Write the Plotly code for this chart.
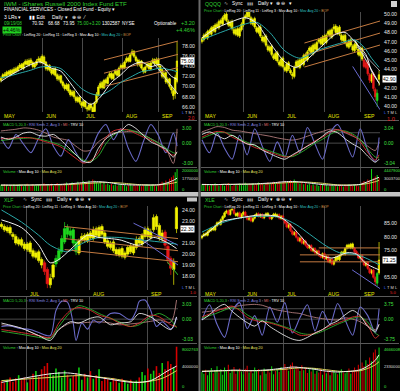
import plotly.graph_objects as go

# ---------------- data ----------------
MONTHS = ['MAY', 'JUN', 'JUL', 'AUG', 'SEP']
MONTH_POS = [0, 22, 43.3, 64.8, 84]
XLF_MONTHS = ['JUL', 'AUG', 'SEP']
XLF_MONTH_POS = [8.9, 30.8, 50.8]
IND_X = [0, 4, 8, 12, 16, 20, 24, 28, 32, 36, 40, 44, 48, 52, 56, 60, 64, 68, 72, 76, 80, 84, 88, 92, 94]

# IWM (top-left)
IWM_OPEN = [71.2,71.7,72.4,72.0,72.9,72.3,73.2,72.7,73.5,73.1,
            73.7,74.3,73.5,74.4,75.0,74.2,75.2,74.7,73.8,74.3,
            75.1,75.5,74.7,75.8,74.8,73.4,74.1,73.3,72.5,73.5,
            72.3,71.4,72.1,70.9,70.3,69.5,70.4,69.2,68.3,69.0,
            67.9,67.1,67.9,66.8,66.2,67.1,65.9,65.5,66.5,65.9,
            65.1,66.9,68.3,69.8,70.8,69.7,71.3,70.6,71.9,72.6,
            71.5,72.5,73.1,72.1,73.7,74.2,73.6,74.9,75.6,74.9,
            76.3,76.9,75.8,75.2,74.2,75.0,73.5,72.8,73.9,74.5,
            73.4,74.7,75.3,74.4,75.4,74.0,73.3,71.9,72.7,70.8,
            71.5,69.9,69.2,68.6,71.0]
IWM_HIGH = [72.0,72.6,72.8,73.1,73.2,73.4,73.5,73.8,73.9,74.1,
            74.6,74.6,74.8,75.3,75.4,75.5,75.6,75.0,74.8,75.4,
            75.9,75.9,76.3,76.1,75.0,74.4,74.4,73.6,73.7,73.8,
            72.6,72.4,72.3,71.2,70.6,70.7,70.6,69.5,69.3,69.3,
            68.2,68.2,68.1,67.1,67.4,67.3,66.2,66.8,66.8,66.1,
            67.1,68.9,70.3,71.0,71.1,71.5,71.6,72.2,72.9,72.8,
            72.7,73.4,73.3,73.9,74.5,74.6,75.1,75.9,75.9,76.5,
            77.3,77.1,76.1,75.5,75.3,75.2,73.8,74.1,74.8,74.7,
            74.9,75.6,75.5,75.7,75.6,74.3,73.5,72.9,72.9,71.8,
            71.7,70.3,69.5,72.3,78.8]
IWM_LOW = [70.8,71.4,71.7,71.8,72.1,72.0,72.3,72.5,72.7,72.9,
           73.4,73.3,73.2,74.1,74.0,73.9,74.3,73.5,73.5,74.0,
           74.8,74.5,74.4,74.3,73.1,73.0,72.9,72.2,72.2,71.9,
           71.1,71.0,70.5,69.8,69.2,69.2,68.7,68.0,68.0,67.6,
           66.8,66.8,66.5,65.8,65.9,65.6,65.1,65.2,65.3,64.4,
           64.9,66.6,68.0,69.5,69.4,69.5,70.3,70.4,71.6,71.3,
           71.2,72.2,71.9,71.9,73.4,73.3,73.4,74.6,74.7,74.7,
           76.0,75.6,74.8,73.9,73.9,73.3,72.5,72.6,73.6,73.2,
           73.2,74.4,74.1,74.2,73.8,72.8,71.6,71.5,70.5,70.4,
           69.6,68.6,67.4,67.6,70.6]
IWM_CLOSE = [71.6,72.3,72.0,72.8,72.4,73.1,72.6,73.4,73.0,73.8,
             74.2,73.6,74.5,74.9,74.3,75.1,74.6,73.9,74.4,75.0,
             75.4,74.8,75.9,74.7,73.5,74.0,73.2,72.6,73.4,72.2,
             71.5,72.0,70.8,70.2,69.6,70.3,69.1,68.4,68.9,68.0,
             67.2,67.8,66.9,66.3,67.0,66.0,65.6,66.4,65.8,65.0,
             66.8,68.5,69.9,70.6,69.8,71.2,70.7,71.8,72.5,71.6,
             72.4,73.0,72.2,73.6,74.1,73.7,74.8,75.5,75.0,76.2,
             76.8,75.9,75.1,74.3,74.9,73.6,72.9,73.8,74.4,73.5,
             74.6,75.2,74.5,75.3,74.1,73.2,72.0,72.6,70.9,71.4,
             70.0,69.3,68.2,71.8,75.0]
IWM_VOL = [28,22,30,25,20,27,24,31,22,26,
           30,24,21,28,33,25,22,29,26,24,
           31,27,23,35,30,26,28,33,24,29,
           36,27,31,25,34,38,29,33,40,31,
           36,42,33,38,45,36,41,48,39,52,
           46,40,35,44,31,37,29,34,27,32,
           26,30,24,28,33,25,29,22,27,31,
           24,28,23,30,26,21,29,25,32,27,
           24,30,26,22,28,35,42,38,48,40,
           55,62,70,85,100]
IWM_MA_X = [0, 5, 10, 16, 21, 27, 32, 37, 43, 48, 53, 59, 64, 69, 75, 80, 85, 91, 94]
IWM_MA10 = [71.0,72.2,73.2,74.3,74.8,73.6,73.0,70.7,67.8,66.5,67.9,70.8,72.3,74.0,74.8,73.9,74.3,72.0,71.4]
IWM_MA20 = [71.7,72.1,72.6,73.2,73.8,73.9,73.5,71.8,69.6,68.6,68.3,69.4,70.8,71.8,72.9,73.2,73.6,73.2,72.9]
IWM_LR_X = [55, 94.5]
IWM_LR_UP = [75.2, 78.9]
IWM_LR_MID = [72.6, 76.3]
IWM_LR_LO = [70.0, 73.7]
IWM_LR11_X = [81, 94.5]
IWM_LR11 = [74.8, 68.5]
IWM_MACD = [62,63,64,65,64,60,55,50,43,30,17,6,12,30,65,80,84,82,74,66,59,47,34,24,30]
IWM_SIG = [58,60,62,63,64,62,58,53,47,37,25,13,10,22,50,70,80,83,78,70,62,52,40,30,27]
IWM_TRV = [66,61,66,75,77,70,68,72,59,42,25,10,8,40,62,73,80,95,86,70,55,47,38,20,32]
IWM_MFI = [80,82,84,87,86,82,75,66,62,58,45,34,36,55,66,75,77,79,79,72,62,53,40,5,85]
IWM_RSI = [65,40,72,50,30,62,85,45,22,60,30,8,35,75,95,60,85,40,10,55,95,70,30,75,45]
IWM_VMA10 = [27,27,26,27,27,28,28,29,30,32,35,38,41,42,40,35,30,28,27,27,27,28,35,48,58]
IWM_VMA20 = [26,26,27,27,27,27,28,28,28,29,31,33,35,37,38,38,36,33,30,28,27,28,31,36,40]

# QQQQ (top-right)
QQQ_OPEN = [47.0,47.2,47.8,47.4,48.2,47.8,48.6,48.1,48.9,48.5,
            49.3,48.9,49.5,50.0,49.2,48.7,49.2,48.3,47.8,48.4,
            47.6,48.3,48.8,49.6,49.7,50.3,49.6,48.9,49.5,48.5,
            48.0,48.6,47.5,47.0,47.6,46.5,46.0,46.5,45.5,45.1,
            45.8,44.8,44.4,45.2,44.2,43.8,44.7,43.9,43.5,43.2,
            44.3,44.9,44.2,45.1,44.5,45.6,45.0,46.0,46.4,45.7,
            46.7,46.1,47.0,47.3,46.7,47.6,46.9,47.8,48.2,47.5,
            48.4,48.7,47.9,48.6,47.7,47.1,47.7,46.8,46.4,47.2,
            46.5,46.0,46.8,46.2,45.5,46.3,45.0,44.2,44.8,43.4,
            42.7,43.5,41.8,40.6,43.4]
QQQ_HIGH = [47.5,47.9,48.0,48.3,48.4,48.7,48.8,49.0,49.1,49.4,
            49.5,49.8,50.1,50.2,49.4,49.3,49.4,48.5,48.5,48.6,
            48.6,49.1,49.7,50.0,50.4,50.5,49.8,49.6,49.7,48.7,
            48.7,48.8,47.7,47.7,47.8,46.7,46.6,46.7,45.7,45.9,
            46.0,45.0,45.3,45.4,44.4,44.8,44.9,44.1,43.7,44.4,
            45.0,45.1,45.2,45.3,45.7,45.8,46.1,46.5,46.6,46.8,
            46.9,47.1,47.4,47.5,47.7,47.8,47.9,48.3,48.4,48.5,
            48.9,48.9,48.7,48.8,47.9,47.8,47.9,47.0,47.3,47.4,
            46.7,46.9,47.0,46.4,46.4,46.5,45.2,44.9,45.0,43.6,
            43.6,43.7,42.0,41.8,43.9]
QQQ_LOW = [46.8,47.0,47.3,47.2,47.7,47.6,48.0,47.9,48.4,48.3,
           48.8,48.7,49.3,49.1,48.6,48.5,48.2,47.7,47.6,47.5,
           47.4,48.1,48.6,49.4,49.5,49.5,48.8,48.7,48.4,47.9,
           47.8,47.4,46.9,46.8,46.4,45.9,45.8,45.4,45.0,44.9,
           44.7,44.3,44.2,44.1,43.7,43.6,43.8,43.4,42.9,43.0,
           44.1,44.1,44.0,44.4,44.3,44.9,44.8,45.8,45.6,45.5,
           46.0,45.9,46.8,46.6,46.5,46.8,46.7,47.6,47.4,47.3,
           48.2,47.8,47.7,47.6,47.0,46.9,46.7,46.3,46.2,46.4,
           45.9,45.8,46.1,45.4,45.3,44.9,44.1,44.0,43.3,42.5,
           42.5,41.6,40.6,39.9,42.2]
QQQ_CLOSE = [47.3,47.7,47.5,48.1,47.9,48.5,48.2,48.8,48.6,49.2,
             49.0,49.6,49.9,49.3,48.8,49.1,48.4,47.9,48.3,47.7,
             48.4,48.9,49.5,49.8,50.2,49.7,49.0,49.4,48.6,48.1,
             48.5,47.6,47.1,47.5,46.6,46.1,46.4,45.6,45.2,45.7,
             44.9,44.5,45.1,44.3,43.9,44.6,44.0,43.6,43.3,44.2,
             44.8,44.3,45.0,44.6,45.5,45.1,45.9,46.3,45.8,46.6,
             46.2,46.9,47.2,46.8,47.5,47.0,47.7,48.1,47.6,48.3,
             48.6,48.0,48.5,47.8,47.2,47.6,46.9,46.5,47.1,46.6,
             46.1,46.7,46.3,45.6,46.2,45.1,44.3,44.7,43.5,42.8,
             43.4,41.9,41.0,41.4,42.9]
QQQ_VOL = [30,26,33,28,24,31,27,35,29,25,
           32,28,24,30,36,27,23,31,28,26,
           34,29,25,37,31,27,30,35,26,32,
           38,29,33,27,36,40,31,35,42,33,
           37,44,35,39,46,37,42,49,40,52,
           45,39,34,43,30,36,28,33,26,31,
           25,29,23,27,32,24,28,21,26,30,
           23,27,22,29,25,20,28,24,31,26,
           23,29,25,21,30,38,45,40,52,46,
           100,58,66,72,60]
QQQ_MA20_X = [0, 10, 21, 29, 36, 44, 52, 62, 73, 81, 86, 90, 94]
QQQ_MA20 = [47.2,48.0,48.8,49.1,48.0,46.0,45.2,46.1,46.8,47.2,46.4,45.2,44.2]
QQQ_MA10_X = [0, 7, 15, 23, 29, 36, 44, 50, 55, 63, 71, 76, 81, 87, 90, 94]
QQQ_MA10 = [47.4,48.4,49.1,49.6,49.0,46.9,44.8,44.2,44.9,46.4,47.8,48.0,47.0,45.6,43.8,42.5]
QQQ_LR_X = [54.4, 94.5]
QQQ_LR_UP = [46.85, 49.24]
QQQ_LR_MID = [45.54, 47.93]
QQQ_LR_LO = [44.24, 46.63]
QQQ_LR11_X = [81, 94.5]
QQQ_LR11 = [47.2, 42.3]
QQQ_LR11B_X = [82, 94.5]
QQQ_LR11B = [46.5, 43.8]
QQQ_LR3_X = [80, 94.5]
QQQ_LR3 = [44.3, 39.6]
QQQ_MACD = [66,74,79,77,66,58,51,42,37,31,25,20,23,34,46,57,66,77,83,78,70,55,30,13,25]
QQQ_SIG = [63,70,76,77,70,61,54,46,40,34,28,22,21,29,40,52,61,72,80,80,73,60,38,20,18]
QQQ_TRV = [72,78,70,62,70,60,50,48,36,28,20,15,25,35,45,55,68,80,76,62,50,40,22,8,15]
QQQ_MFI = [78,84,90,88,82,80,77,74,71,68,64,61,59,62,68,74,79,84,83,76,68,60,45,35,55]
QQQ_RSI = [60,30,75,40,15,70,25,85,45,10,55,20,70,30,88,50,15,75,95,60,20,85,35,10,65]
QQQ_VMA10 = [30,29,29,30,30,31,31,32,34,36,39,42,43,41,37,33,29,27,26,26,27,30,42,55,62]
QQQ_VMA20 = [29,29,29,30,30,30,31,31,32,33,35,37,39,40,40,38,35,31,28,27,27,29,34,42,48]

# XLF (bottom-left)
XLF_OPEN = [22.7,22.5,22.1,22.4,21.8,21.6,20.9,21.3,20.9,20.4,
            21.0,20.3,19.7,20.2,19.5,19.2,18.6,17.2,17.9,19.1,
            19.5,20.2,21.1,22.4,21.7,22.2,21.1,20.1,21.3,21.7,
            21.2,21.9,21.4,22.3,21.6,22.5,21.9,21.2,20.6,21.1,
            20.4,19.9,20.5,19.7,20.0,20.7,20.1,20.6,21.4,20.9,
            21.6,22.3,21.5,22.2,23.4,22.6,21.4,22.0,20.7,19.6,
            18.6,24.2]
XLF_HIGH = [22.9,22.7,22.6,22.6,22.0,21.8,21.5,21.5,21.1,21.1,
            21.2,20.5,20.3,20.4,19.7,19.4,18.8,18.2,19.3,19.9,
            20.6,21.7,22.9,22.7,22.4,22.4,21.3,21.4,21.9,21.9,
            22.0,22.1,22.5,22.5,22.6,22.7,22.1,21.4,21.2,21.3,
            20.6,20.6,20.7,20.3,20.8,20.9,20.9,21.6,21.6,21.9,
            22.5,22.5,22.3,23.6,23.6,22.8,22.2,22.2,20.9,19.8,
            19.6,24.5]
XLF_LOW = [22.3,22.0,21.9,21.7,21.3,20.8,20.7,20.6,20.3,20.2,
           20.0,19.6,19.5,19.2,18.7,18.1,16.9,16.9,17.7,18.8,
           19.3,20.0,20.9,21.5,21.4,20.7,19.9,19.9,21.0,21.0,
           21.0,21.3,21.2,21.5,21.4,21.6,20.9,20.5,20.4,20.1,
           19.8,19.7,19.6,19.5,19.8,20.0,19.9,20.4,20.8,20.7,
           21.4,21.4,21.3,22.0,22.2,21.2,21.1,20.4,19.1,18.1,
           17.2,21.9]
XLF_CLOSE = [22.5,22.2,22.4,21.9,21.6,21.0,21.3,20.8,20.5,20.9,
             20.2,19.8,20.1,19.4,19.0,18.4,17.3,17.8,19.0,19.6,
             20.3,21.4,22.3,21.8,22.1,21.0,20.2,21.2,21.6,21.3,
             21.8,21.5,22.2,21.7,22.4,21.8,21.1,20.7,21.0,20.3,
             20.0,20.4,19.8,20.1,20.6,20.2,20.7,21.3,21.0,21.7,
             22.2,21.6,22.0,23.3,22.5,21.5,21.9,20.8,19.5,18.7,
             19.3,22.3]
XLF_VOL = [22,18,25,30,20,28,35,24,30,19,
           26,38,44,32,48,55,62,40,35,50,
           42,30,45,36,28,33,40,52,25,38,
           30,44,27,35,48,22,31,26,20,29,
           24,18,27,21,16,25,19,23,30,42,
           35,50,38,45,55,40,62,48,66,60,
           52,98]
XLF_MA20_X = [0, 7, 13, 17, 23, 27, 31, 34, 41, 48, 55, 61]
XLF_MA20 = [24.0,22.9,21.7,20.8,20.2,20.8,21.3,21.5,21.5,21.3,21.1,20.9]
XLF_MA10_X = [0, 7, 13, 17, 20, 24, 30, 34, 41, 48, 53, 58, 61]
XLF_MA10 = [23.1,22.4,20.8,19.2,19.5,20.4,21.7,21.5,21.3,20.8,21.5,21.0,20.5]
XLF_LR_X = [22, 61.5]
XLF_LR_UP = [22.5, 21.4]
XLF_LR_MID = [21.4, 20.3]
XLF_LR_LO = [20.4, 19.3]
XLF_LR11_X = [46, 61.5]
XLF_LR11 = [22.8, 20.8]
XLF_LR11B_X = [48, 61.5]
XLF_LR11B = [21.45, 19.0]
XLF_LR3_X = [57.7, 61.5]
XLF_LR3 = [19.3, 18.1]
XLF_IND_X = [0, 7, 13, 17, 20, 24, 27, 31, 34, 38, 41, 45, 48, 52, 55, 59, 61]
XLF_MACD = [28,21,14,10,43,72,79,72,61,54,43,35,43,61,57,39,35]
XLF_SIG = [24,17,10,7,35,68,83,75,65,54,46,35,39,57,65,50,32]
XLF_TRV = [43,31,14,3,28,46,43,54,57,39,43,46,65,57,43,28,57]
XLF_MFI = [39,31,14,8,28,43,43,45,46,43,39,41,43,47,50,45,96]
XLF_RSI_X = [0, 3, 6, 10, 13, 17, 19, 21, 23, 25, 26, 28, 30, 32, 34, 38, 41, 45, 47, 48, 50, 52, 54, 56, 59, 60, 61]
XLF_RSI = [35,37,31,28,21,14,72,93,91,43,3,43,29,50,43,65,65,50,72,93,96,72,35,46,29,35,57]
XLF_VMA10_X = [0, 17, 23, 34, 46, 52, 58, 61]
XLF_VMA10 = [19, 38, 40, 30, 19, 23, 45, 55]
XLF_VMA20_X = [0, 17, 27, 38, 48, 56, 61]
XLF_VMA20 = [23, 30, 34, 28, 19, 28, 45]

# XLE (bottom-right)
XLE_OPEN = [79.6,80.3,81.1,80.5,81.9,82.4,83.2,82.5,84.1,85.3,
            84.6,86.4,87.4,89.0,89.7,88.3,90.0,90.1,88.6,87.8,
            88.9,87.3,88.4,89.2,87.7,86.4,87.3,85.8,86.9,88.0,
            88.6,87.5,88.3,87.0,87.9,88.7,87.8,86.7,87.6,88.5,
            87.6,88.2,86.8,87.7,86.3,85.2,83.5,84.5,82.1,80.8,
            81.7,79.7,78.4,79.5,77.5,78.4,76.7,75.8,76.7,74.7,
            75.6,73.8,74.7,73.0,72.3,73.7,71.7,72.6,70.5,71.5,
            69.7,71.0,72.4,71.4,73.1,74.3,73.4,75.7,76.9,75.8,
            77.3,75.7,74.5,73.5,72.0,73.0,70.9,69.3,70.3,68.0,
            66.4,67.5,64.7,62.6,66.5]
XLE_HIGH = [80.7,81.5,81.6,82.3,83.0,83.6,83.7,84.5,85.7,85.8,
            86.8,88.0,89.4,90.1,90.2,90.4,90.6,90.5,89.1,89.3,
            89.4,88.8,89.6,89.7,88.2,87.7,87.8,87.3,88.4,89.0,
            89.1,88.7,88.8,88.3,89.1,89.2,88.3,88.0,88.9,89.0,
            88.6,88.7,88.1,88.2,86.8,85.7,84.9,85.0,82.6,82.1,
            82.2,80.2,79.9,80.0,78.8,78.9,77.2,77.1,77.2,76.0,
            76.1,75.1,75.2,73.5,74.1,74.2,73.0,73.1,71.9,72.0,
            71.4,72.8,72.9,73.5,74.7,74.8,76.1,77.3,77.4,77.7,
            77.8,76.2,75.0,74.0,73.4,73.5,71.4,70.7,70.8,68.5,
            67.9,68.0,65.2,66.8,78.0]
XLE_LOW = [79.0,79.9,80.1,80.1,81.4,81.9,82.1,82.0,83.6,84.2,
           84.1,85.9,86.9,88.5,87.9,87.8,89.5,88.2,87.4,87.3,
           86.9,86.8,87.9,87.3,86.0,85.9,85.4,85.3,86.4,87.5,
           87.1,87.0,86.6,86.5,87.4,87.4,86.3,86.2,87.1,87.2,
           87.1,86.4,86.3,85.9,84.6,83.1,83.0,81.7,80.4,80.3,
           79.3,78.0,77.9,77.1,77.0,76.3,75.4,75.3,74.3,74.2,
           73.4,73.3,72.6,71.9,71.8,71.3,71.2,70.1,70.0,69.3,
           69.2,70.5,71.0,70.9,72.6,73.0,72.9,75.2,75.4,75.3,
           75.3,73.9,73.1,71.6,71.5,70.5,68.9,68.8,67.6,66.0,
           65.9,64.3,61.8,61.5,65.8]
XLE_CLOSE = [80.2,81.0,80.6,81.8,82.5,83.1,82.6,84.0,85.2,84.7,
             86.3,87.5,88.9,89.6,88.4,89.9,90.2,88.7,87.9,88.8,
             87.4,88.3,89.1,87.8,86.5,87.2,85.9,86.8,87.9,88.5,
             87.6,88.2,87.1,87.8,88.6,87.9,86.8,87.5,88.4,87.7,
             88.1,86.9,87.6,86.4,85.1,83.6,84.4,82.2,80.9,81.6,
             79.8,78.5,79.4,77.6,78.3,76.8,75.9,76.6,74.8,75.5,
             73.9,74.6,73.1,72.4,73.6,71.8,72.5,70.6,71.4,69.8,
             70.9,72.3,71.5,73.0,74.2,73.5,75.6,76.8,75.9,77.2,
             75.8,74.4,73.6,72.1,72.9,71.0,69.4,70.2,68.1,66.5,
             67.4,64.8,63.1,66.2,71.25]
XLE_VOL = [42,38,47,35,44,51,39,46,55,41,
           48,36,52,44,58,40,47,53,38,45,
           50,43,37,49,56,41,46,39,52,44,
           48,35,43,50,38,46,41,55,37,44,
           49,42,53,47,60,52,45,58,63,48,
           55,50,44,57,46,52,40,48,43,51,
           38,45,41,49,36,44,39,47,35,42,
           46,40,37,43,48,41,39,45,50,38,
           44,52,47,58,50,63,55,68,60,74,
           66,85,92,78,96]
XLE_MA20_X = [0, 10, 20, 31, 41, 50, 57, 66, 73, 82, 87, 94]
XLE_MA20 = [81.7,85.0,87.0,87.6,87.3,84.5,81.0,76.5,74.0,73.3,72.0,69.5]
XLE_MA10_X = [0, 4, 10, 20, 31, 41, 46, 52, 57, 62, 69, 77, 82, 87, 94]
XLE_MA10 = [80.0,82.0,85.5,87.0,88.1,87.4,85.1,80.5,76.5,73.5,72.0,74.0,73.5,70.0,67.6]
XLE_LR_UP_X = [62, 94.5]
XLE_LR_UP = [75.8, 75.8]
XLE_LR_X = [52, 94.5]
XLE_LR_MID = [73.2, 73.2]
XLE_LR_LO = [70.6, 70.6]
XLE_LR3_X = [79.7, 94.5]
XLE_LR3 = [67.6, 60.6]
XLE_MACD = [57,64,71,78,82,72,56,49,46,43,38,32,24,15,15,20,28,37,43,50,57,58,38,8,15]
XLE_SIG = [55,60,66,73,78,75,62,53,48,45,40,34,28,20,17,18,24,32,40,47,54,57,45,20,14]
XLE_TRV = [50,62,78,86,70,56,44,36,48,35,24,14,6,3,10,20,28,40,48,62,72,60,35,24,40]
XLE_MFI = [68,70,73,76,80,83,85,86,84,78,73,70,67,65,60,56,53,51,50,55,52,46,36,28,40]
XLE_RSI = [50,85,40,10,70,90,30,60,15,80,45,90,20,55,85,25,70,40,88,50,15,80,60,20,75]
XLE_VMA10 = [43,44,45,45,46,46,45,45,46,47,49,51,53,52,50,48,45,43,42,43,44,47,55,68,80]
XLE_VMA20 = [44,44,44,45,45,45,45,45,45,46,47,48,50,51,51,50,48,46,44,43,44,45,50,58,65]

# candle colour codes (style): y = yellow, r = red, g = green
IWM_COLS = 'y' * 95
QQQ_COLS = 'y' * 86 + 'rrrryrr' + 'gy'
XLE_COLS = ('y' * 14 + 'r' + 'yy' + 'r' + 'yy' + 'r' + 'yy' + 'rr' + 'y' + 'r' + 'yyy' + 'r' + 'y' + 'r'
            + 'yyy' + 'r' + 'yyyy' + 'r' + 'y' + 'r' + 'rryrryrryryrryryryrr' + 'yryryr' + 'y' * 11
            + 'rrryrryrryrr' + 'gy')
XLF_COLS = 'y' * 15 + 'rr' + 'yy' + 'g' * 8 + 'y' * 30 + 'rrr' + 'yy'

# ---------------- styling ----------------
W, H = 400, 391
FONT = 'Liberation Sans'
YEL = '#f2f200'; RED = '#e81818'; GRN = '#1ed81e'
TEAL = '#2aa8a8'; WHITE = '#f0f0f0'; ORNG = '#c47a40'; GRID = '#4a4a4a'
MACD_C = '#d83030'; SIG_C = '#2eb02e'; RSI_C = '#6a6ac8'; MFI_C = '#b07a7a'; TRV_C = '#e8e8e8'
VRED = '#d80000'; VGRN = '#10d010'; VMA20 = '#d8d860'
LBL = '#e6e6e6'; LGRN = '#40e040'

fig = go.Figure()
layout = dict(width=W, height=H, margin=dict(l=0, r=0, t=0, b=0, pad=0),
              paper_bgcolor='black', plot_bgcolor='black', showlegend=False,
              hovermode=False, boxgap=0.15, boxgroupgap=0.0, bargap=0.3,
              font=dict(family=FONT, color='white', size=6))
ann = []
shapes = []
count = [0]


def pane(px, py, xr, yr, grid):
    count[0] += 1
    n = count[0]
    s = '' if n == 1 else str(n)
    layout['xaxis' + s] = dict(domain=[px[0] / W, px[1] / W], range=xr, anchor='y' + s,
                               showgrid=True, gridcolor=GRID, gridwidth=1, tickvals=grid,
                               showticklabels=False, ticks='', zeroline=False, showline=False,
                               fixedrange=True, rangeslider=dict(visible=False))
    layout['yaxis' + s] = dict(domain=[1 - py[1] / H, 1 - py[0] / H], range=yr, anchor='x' + s,
                               showgrid=False, zeroline=False, showline=False, ticks='',
                               showticklabels=False, fixedrange=True)
    return ('x' + s, 'y' + s)


def T(x, y, s, color='#ffffff', size=5.0, anchor='left', bg=None):
    d = dict(x=x / W, y=1 - y / H, xref='paper', yref='paper', text=s, showarrow=False,
             xanchor=anchor, yanchor='middle', font=dict(size=size, color=color, family=FONT))
    if bg:
        d.update(bgcolor=bg, borderpad=0)
    ann.append(d)


def R(x0, y0, x1, y1, fill):
    shapes.append(dict(type='rect', xref='paper', yref='paper', x0=x0 / W, x1=x1 / W,
                       y0=1 - y1 / H, y1=1 - y0 / H, fillcolor=fill, line=dict(width=0), layer='above'))


def HL(x0, x1, y, color='#5a5a5a'):
    shapes.append(dict(type='line', xref='paper', yref='paper', x0=x0 / W, x1=x1 / W,
                       y0=1 - y / H, y1=1 - y / H, line=dict(color=color, width=1), layer='above'))


def ylab(x1, py, rng, val, text, color, size):
    # axis label in the right-hand label column, placed through the pane's own value scale
    y = py[0] + (rng[1] - val) / (rng[1] - rng[0]) * (py[1] - py[0])
    T(x1 + 2, y, text, color, size)


def candles(ax, o, h, l, c, cols):
    n = min(len(o), len(h), len(l), len(c), len(cols))
    for code, col in (('y', YEL), ('r', RED), ('g', GRN)):
        ids = [i for i in range(n) if cols[i] == code]
        if not ids:
            continue
        fig.add_trace(go.Candlestick(
            x=ids, open=[o[i] for i in ids], high=[h[i] for i in ids],
            low=[l[i] for i in ids], close=[c[i] for i in ids],
            xaxis=ax[0], yaxis=ax[1], whiskerwidth=0,
            increasing=dict(line=dict(color=col, width=0.7), fillcolor=col),
            decreasing=dict(line=dict(color=col, width=0.7), fillcolor=col)))


def line(ax, x, y, color, width=1.0, shape='spline'):
    fig.add_trace(go.Scatter(x=x, y=y, mode='lines', xaxis=ax[0], yaxis=ax[1],
                             line=dict(color=color, width=width, shape=shape, smoothing=0.8)))


def volume(ax, vol, o, c):
    n = min(len(vol), len(o), len(c))
    cols = [VGRN if c[i] >= o[i] else VRED for i in range(n)]
    fig.add_trace(go.Bar(x=list(range(n)), y=vol[:n], width=0.55, xaxis=ax[0], yaxis=ax[1],
                         marker=dict(color=cols, line=dict(width=0))))


def grid_line(ax, x0, x1, y):
    shapes.append(dict(type='line', xref=ax[0], yref=ax[1], x0=x0, x1=x1, y0=y, y1=y,
                       line=dict(color=GRID, width=1), layer='below'))


PRICE_ROW = ("<span style='color:#30d030'>Price Chart</span> : LinReg 20 : LinReg 11 : LinReg 3 : "
             "Mov Avg 10 : <span style='color:#30c0c0'>Mov Avg 20</span> : <span style='color:#d09040'>BOP</span>")
IND_ROW = ("<span style='color:#30d030'>MACD 5,20,3</span> : <span style='color:#8888e0'>RSI Smth 2, Avg 3</span>"
           " : <span style='color:#e07070'>MI</span> : TRV 10")
VOL_ROW = ("<span style='color:#30d030'>Volume</span> : Mov Avg 10 : <span style='color:#e0e060'>Mov Avg 20</span>")

IND_RNG = [-3, 103]
VOL_RNG = [0, 104]


def month_labels(x0, w, n, pos, names, y):
    for p, nm in zip(pos, names):
        T(x0 + (p + 0.5) * w / n + 1.5, y, nm, '#e8e800', 5.2)


def panel(x0, x1, yp, yi, yv, n, mpos, mnames, prng, pticks, box, ilab, vlab, lt_y,
          o, h, l, c, cols, mas, lrs, ind, vol, vmas):
    xr = [-0.5, n - 0.5]
    pa = pane((x0, x1), yp, xr, prng, mpos)
    ia = pane((x0, x1), yi, xr, IND_RNG, mpos)
    va = pane((x0, x1), yv, xr, VOL_RNG, mpos)
    grid_line(ia, xr[0], xr[1], 52)
    grid_line(ia, xr[0], xr[1], 76)
    candles(pa, o, h, l, c, cols)
    for (x, y, col, wd, shp) in lrs:
        line(pa, x, y, col, wd, shp)
    for (x, y, col) in mas:
        line(pa, x, y, col, 1.0)
    for (x, y, col, wd) in ind:
        line(ia, x, y, col, wd)
    volume(va, vol, o, c)
    for (x, y, col) in vmas:
        line(va, x, y, col, 1.0)
    # axis labels (right column)
    for t in pticks:
        ylab(x1, yp, prng, t, '%.2f' % t, LBL, 5.2)
    for v, s in zip([86, 52, 6], ilab):
        ylab(x1, yi, IND_RNG, v, s, LGRN, 4.8)
    ylab(x1, yv, VOL_RNG, 92, vlab[0], LGRN, 4.1)
    ylab(x1, yv, VOL_RNG, 55, vlab[1], '#dddddd', 4.1)
    ylab(x1, yv, VOL_RNG, 9, '0', LGRN, 4.1)
    # texts
    month_labels(x0, x1 - x0, n, mpos, mnames, yp[1] + 4)
    T(x1 + 9.5, box[0], box[1], 'black', 5.0, 'center', 'white')
    T(x0 + 1, yi[0] + 3.5, IND_ROW, '#ffffff', 3.8)
    T(x0 + 1, yv[0] + 3.5, VOL_ROW, '#ffffff', 3.8)
    T(x1 + 2, lt_y, "<span style='color:#3060ff'>L</span> T M L", '#dddddd', 4.0)
    HL(x0, x1 + 19, yi[0] - 0.5)
    HL(x0, x1 + 19, yv[0] - 0.5)


# ---- IWM ----
panel(0, 178, (38, 112), (121, 167), (168, 191), 95, MONTH_POS, MONTHS, [65.0, 79.5],
      [66, 68, 70, 72, 74, 76, 78], (61.5, '75.00'), ['3.00', '0.00', '-3.00'], ('2000000', '1770000'), 113,
      IWM_OPEN, IWM_HIGH, IWM_LOW, IWM_CLOSE, IWM_COLS,
      [(IWM_MA_X, IWM_MA20, TEAL), (IWM_MA_X, IWM_MA10, WHITE)],
      [(IWM_LR_X, IWM_LR_UP, ORNG, 1.0, 'linear'), (IWM_LR_X, IWM_LR_MID, ORNG, 1.0, 'linear'),
       (IWM_LR_X, IWM_LR_LO, ORNG, 1.0, 'linear'), (IWM_LR11_X, IWM_LR11, '#d8d8d8', 1.0, 'linear')],
      [(IND_X, IWM_MFI, MFI_C, 0.9), (IND_X, IWM_RSI, RSI_C, 1.1), (IND_X, IWM_SIG, SIG_C, 0.9),
       (IND_X, IWM_MACD, MACD_C, 0.9), (IND_X, IWM_TRV, TRV_C, 0.9)],
      IWM_VOL, [(IND_X, IWM_VMA20, VMA20), (IND_X, IWM_VMA10, WHITE)])

# ---- QQQQ ----
panel(201, 380, (12, 112), (121, 167), (168, 191), 95, MONTH_POS, MONTHS, [39.35, 50.22],
      [40, 41, 42, 44, 45, 46, 47, 48, 49, 50], (79.3, '42.90'), ['3.04', '0.00', '-3.04'], ('4447900', '3003700'), 112.5,
      QQQ_OPEN, QQQ_HIGH, QQQ_LOW, QQQ_CLOSE, QQQ_COLS,
      [(QQQ_MA20_X, QQQ_MA20, TEAL), (QQQ_MA10_X, QQQ_MA10, WHITE)],
      [(QQQ_LR_X, QQQ_LR_UP, ORNG, 1.0, 'linear'), (QQQ_LR_X, QQQ_LR_MID, ORNG, 1.0, 'linear'),
       (QQQ_LR_X, QQQ_LR_LO, ORNG, 1.0, 'linear'), (QQQ_LR11_X, QQQ_LR11, '#e0e0e0', 1.0, 'linear'),
       (QQQ_LR11B_X, QQQ_LR11B, '#a0a0a0', 1.0, 'linear'), (QQQ_LR3_X, QQQ_LR3, '#6a6ad0', 1.0, 'linear')],
      [(IND_X, QQQ_MFI, MFI_C, 0.9), (IND_X, QQQ_RSI, RSI_C, 1.1), (IND_X, QQQ_SIG, SIG_C, 0.9),
       (IND_X, QQQ_MACD, MACD_C, 0.9), (IND_X, QQQ_TRV, TRV_C, 0.9)],
      QQQ_VOL, [(IND_X, QQQ_VMA20, VMA20), (IND_X, QQQ_VMA10, WHITE)])

# ---- XLF ----
panel(0, 178, (206, 290), (297, 343), (344, 391), 62, XLF_MONTH_POS, XLF_MONTHS, [16.73, 24.36],
      [18, 19, 20, 21, 23, 24], (228.7, '22.30'), ['3.03', '0.00', '-3.03'], ('8002763', '4000000'), 287,
      XLF_OPEN, XLF_HIGH, XLF_LOW, XLF_CLOSE, XLF_COLS,
      [(XLF_MA20_X, XLF_MA20, TEAL), (XLF_MA10_X, XLF_MA10, WHITE)],
      [(XLF_LR_X, XLF_LR_UP, ORNG, 1.0, 'linear'), (XLF_LR_X, XLF_LR_MID, ORNG, 1.0, 'linear'),
       (XLF_LR_X, XLF_LR_LO, ORNG, 1.0, 'linear'), (XLF_LR11_X, XLF_LR11, '#6a6ad0', 1.0, 'linear'),
       (XLF_LR11B_X, XLF_LR11B, '#6a6ad0', 1.0, 'linear'), (XLF_LR3_X, XLF_LR3, '#30c030', 1.0, 'linear')],
      [(XLF_IND_X, XLF_MFI, MFI_C, 0.9), (XLF_RSI_X, XLF_RSI, RSI_C, 1.1), (XLF_IND_X, XLF_SIG, SIG_C, 0.9),
       (XLF_IND_X, XLF_MACD, MACD_C, 0.9), (XLF_IND_X, XLF_TRV, TRV_C, 0.9)],
      XLF_VOL, [(XLF_VMA20_X, XLF_VMA20, VMA20), (XLF_VMA10_X, XLF_VMA10, WHITE)])

# ---- XLE ----
panel(201, 380, (206, 290), (297, 343), (344, 391), 95, MONTH_POS, MONTHS, [60.07, 91.46],
      [65, 75, 80, 85], (260.2, '71.25'), ['3.75', '0.00', '-3.75'], ('4666008', '2330000'), 287,
      XLE_OPEN, XLE_HIGH, XLE_LOW, XLE_CLOSE, XLE_COLS,
      [(XLE_MA20_X, XLE_MA20, TEAL), (XLE_MA10_X, XLE_MA10, WHITE)],
      [(XLE_LR_UP_X, XLE_LR_UP, ORNG, 1.0, 'linear'), (XLE_LR_X, XLE_LR_MID, ORNG, 1.0, 'linear'),
       (XLE_LR_X, XLE_LR_LO, ORNG, 1.0, 'linear'), (XLE_LR3_X, XLE_LR3, '#6a6ad0', 1.0, 'linear')],
      [(IND_X, XLE_MFI, MFI_C, 0.9), (IND_X, XLE_RSI, RSI_C, 1.1), (IND_X, XLE_SIG, SIG_C, 0.9),
       (IND_X, XLE_MACD, MACD_C, 0.9), (IND_X, XLE_TRV, TRV_C, 0.9)],
      XLE_VOL, [(IND_X, XLE_VMA20, VMA20), (IND_X, XLE_VMA10, WHITE)])

# ---- headers ----
G = '#30d030'
T(2, 3.5, 'IWM - iShares Russell 2000 Index Fund ETF', G, 6.2)
T(2, 10, 'FINANCIAL SERVICES - Closed End Fund - Equity ▾', '#ffffff', 4.7)
T(2, 16.5, '3 LRs ▾', '#ffffff', 5)
T(27, 16.5, '▮▮ Edit', '#ffffff', 5)
T(50, 16.5, 'Daily ▾', '#ffffff', 5)
T(70, 16.5, '⊕ ⊖  ⁄', '#ffffff', 5)
T(2, 23.5, '09/19/08', G, 4.6)
T(30, 23.5, '70.92', '#ffffff', 4.6)
T(46, 23.5, '68.68', '#ffffff', 4.6)
T(61, 23.5, '73.95', '#ffffff', 4.6)
T(75, 23.5, '75.00', G, 4.6)
T(87, 23.5, '+3.20', G, 4.6)
T(100, 23.5, '1302587', '#ffffff', 4.6)
T(120, 23.5, 'NYSE', '#ffffff', 4.6)
T(152, 23.5, 'Optionable', '#ffffff', 4.6)
T(197, 23.5, '+3.20', G, 5.5, 'right')
T(2, 30.5, '+4.46%', '#000000', 5, 'left', '#20d020')
T(197, 30.5, '+4.46%', G, 5.5, 'right')
T(1, 35.5, PRICE_ROW, '#ffffff', 3.6)

for (x0, y0, tk) in ((201, 0, 'QQQQ'), (0, 196, 'XLF'), (201, 196, 'XLE')):
    T(x0 + 2, y0 + 3.8, tk, G, 5.2)
    T(x0 + 21, y0 + 3.8, '∿', '#aaaaaa', 4.8)
    T(x0 + 29, y0 + 3.8, 'Sync', '#ffffff', 4.8)
    T(x0 + 44, y0 + 3.8, '▮▮▮', '#999999', 3.8)
    T(x0 + 55, y0 + 3.8, 'Daily ▾', '#ffffff', 4.8)
    T(x0 + 73, y0 + 3.8, '⊕ ⊖   ▾', '#ffffff', 4.8)
    T(x0 + 1, y0 + 11.2, PRICE_ROW, '#ffffff', 3.5)

T(197, 118.5, '2.0', '#e02020', 4.6, 'right')
T(397, 118.5, '1.0', '#e02020', 5.6, 'right')
T(198, 292.5, '1.0', '#e02020', 4.2, 'right')
T(398, 292.5, '5.0', '#e02020', 4.2, 'right')

# ---- frame pieces ----
R(0, 192, 198.5, 196.5, '#c4c4c4')
R(200.5, 192, 400, 196.5, '#c4c4c4')
R(198.5, 0, 200.5, 391, '#6a6a6a')
R(391, 1, 397, 7, '#d0d0d0')
R(187, 197.5, 197, 201.5, '#c4c4c4')

layout['annotations'] = ann
layout['shapes'] = shapes
fig.update_layout(**layout)
fig.write_html('out.html', config={'displayModeBar': False, 'staticPlot': True},
               post_script="document.body.style.margin='0';document.body.style.padding='0';"
                           "document.body.style.background='black';document.body.style.overflow='hidden';")
